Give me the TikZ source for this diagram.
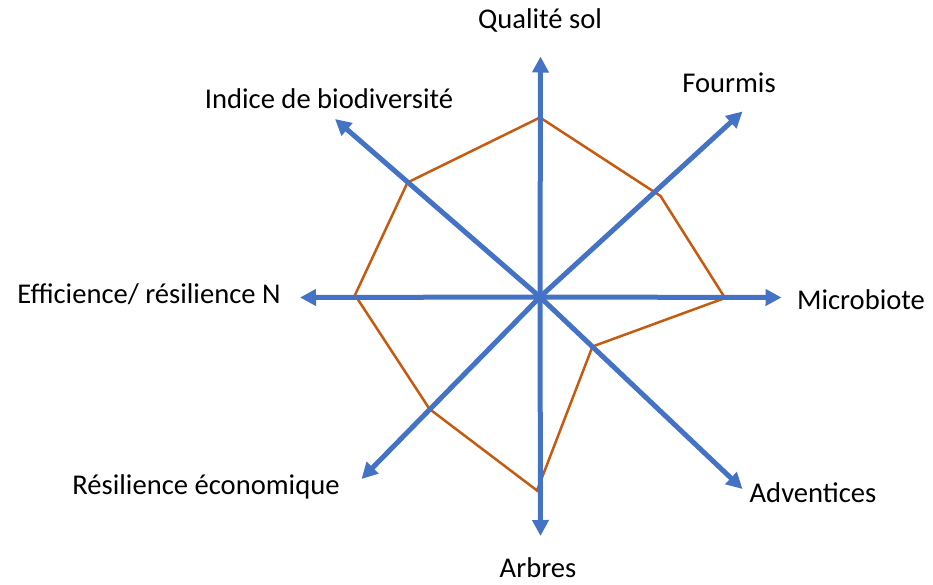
\documentclass[tikz,border=0pt]{standalone}
\usepackage{fontspec}
\setmainfont{Carlito}
\usetikzlibrary{arrows.meta}
\definecolor{axisblue}{HTML}{4472C4}
\definecolor{polyorange}{HTML}{C55A11}
\begin{document}
\begin{tikzpicture}[x=1pt,y=-1pt,
  axisline/.style={draw=axisblue,line width=5pt,-{Triangle[width=16pt,length=16pt]}},
  polyline/.style={draw=polyorange,line width=2.5pt,line join=miter},
  lbl/.style={font=\fontsize{28.6}{32}\selectfont,inner sep=0pt}]
\useasboundingbox (0,0) rectangle (933,584);
\coordinate (O) at (540,297);
% axis tips
\coordinate (tN) at (540.5,56.5);
\coordinate (tNE) at (742.5,111.5);
\coordinate (tE) at (781.5,297.5);
\coordinate (tSE) at (742.5,489);
\coordinate (tS) at (540.5,536);
\coordinate (tSW) at (361.5,479);
\coordinate (tW) at (300,297.5);
\coordinate (tNW) at (335,119);
% polygon vertices
\coordinate (pN) at (540,117.5);
\coordinate (pNE) at (660.5,196);
\coordinate (pE) at (725,298);
\coordinate (pSE) at (592.5,346.5);
\coordinate (pS) at (537,490.5);
\coordinate (pSW) at (429.5,409);
\coordinate (pW) at (355,295);
\coordinate (pNW) at (407.5,182.5);
\draw[polyline] (pN) -- (pNE) -- (pE) -- (pSE) -- (pS) -- (pSW) -- (pW) -- (pNW) -- cycle;
\foreach \t in {tN,tNE,tE,tSE,tS,tSW,tW,tNW}
  \draw[axisline] (O) -- (\t);
% labels
\node[lbl] (lN) at (540,20) {Qualité sol};
\node[lbl] (lNE) at (729,83) {Fourmis};
\node[lbl] (lNW) at (329,99) {Indice de biodiversité};
\node[lbl] (lE) at (861,300) {Microbiote};
\node[lbl] (lW) at (149,294) {Efficience/ résilience N};
\node[lbl] (lSW) at (206,487) {Résilience économique};
\node[lbl] (lS) at (538,568) {Arbres};
\node[lbl] (lSE) at (813,493) {Adventices};
\end{tikzpicture}
\end{document}
